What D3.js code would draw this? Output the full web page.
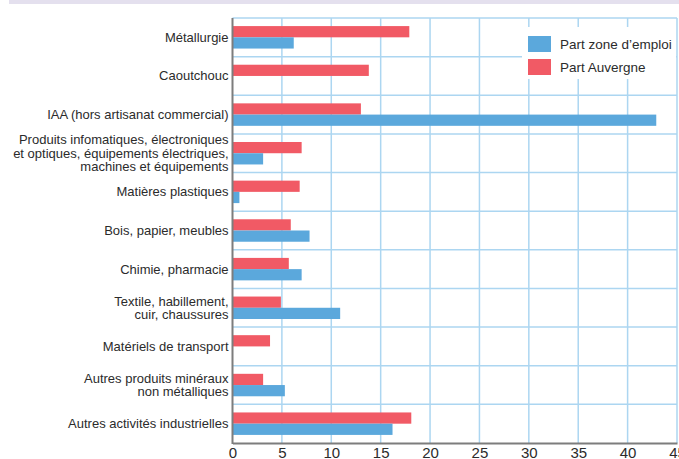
<html>
<head>
  <meta charset="utf-8">
  <script src="https://d3js.org/d3.v7.min.js"></script>
  <style>
    body { margin: 0; background: #fff; }
    text { font-family: "Liberation Sans", Arial, sans-serif; fill: #2b2b2b; }
  </style>
</head>
<body>
<script>

// categories, each one split into its display lines
var categories = [
  ["Métallurgie"],
  ["Caoutchouc"],
  ["IAA (hors artisanat commercial)"],
  ["Produits infomatiques, électroniques", "et optiques, équipements électriques,", "machines et équipements"],
  ["Matières plastiques"],
  ["Bois, papier, meubles"],
  ["Chimie, pharmacie"],
  ["Textile, habillement,", "cuir, chaussures"],
  ["Matériels de transport"],
  ["Autres produits minéraux", "non métalliques"],
  ["Autres activités industrielles"]
];

var partZone     = [6.2, 0, 42.9, 3.1, 0.7, 7.8, 7.0, 10.9, 0, 5.3, 16.2];
var partAuvergne = [17.9, 13.8, 13.0, 7.0, 6.8, 5.9, 5.7, 4.9, 3.8, 3.1, 18.1];

var xTicks = [0, 5, 10, 15, 20, 25, 30, 35, 40, 45];

var seriesNames = ["Part zone d\u2019emploi", "Part Auvergne"];
var colors = {zone: "#5ba8dc", auv: "#f15a65"};

var width = 679,
    height = 459;

// plot area (top is reserved by window, so use plotTop)
var plotLeft = 232.5, plotRight = 677, plotTop = 18, plotBottom = 443;

var svg = d3.select("body")
  .append("svg")
  .attr("width", width)
  .attr("height", height);

// cut-off title band at the very top
svg.append("rect")
  .attr("x", 9).attr("y", 0)
  .attr("width", width - 9).attr("height", 4)
  .attr("fill", "#e4e0ee");

var x = d3.scaleLinear().domain([0, 45]).range([plotLeft, plotRight]);

var y = d3.scaleBand()
  .domain(d3.range(categories.length))
  .range([plotTop, plotBottom]);

var sub = d3.scaleBand()
  .domain(["auv", "zone"])
  .range([0, y.bandwidth()])
  .paddingOuter(0.72);

// grid
svg.selectAll(".vgrid")
  .data(xTicks.slice(1))
  .enter().append("line")
  .attr("x1", function(d) { return x(d); })
  .attr("x2", function(d) { return x(d); })
  .attr("y1", plotTop).attr("y2", plotBottom)
  .attr("stroke", "#acd6f1")
  .attr("stroke-width", 1.5);

svg.selectAll(".hgrid")
  .data(d3.range(categories.length))
  .enter().append("line")
  .attr("x1", plotLeft).attr("x2", plotRight)
  .attr("y1", function(d) { return y(d); })
  .attr("y2", function(d) { return y(d); })
  .attr("stroke", "#acd6f1")
  .attr("stroke-width", 1.5);

// bars
var rows = svg.selectAll(".row")
  .data(categories)
  .enter().append("g")
  .attr("transform", function(d, i) { return "translate(0," + y(i) + ")"; });

rows.append("rect")
  .attr("x", x(0))
  .attr("y", sub("auv"))
  .attr("height", sub.bandwidth())
  .attr("width", function(d, i) { return x(partAuvergne[i]) - x(0); })
  .attr("fill", colors.auv);

rows.append("rect")
  .attr("x", x(0))
  .attr("y", sub("zone"))
  .attr("height", sub.bandwidth())
  .attr("width", function(d, i) { return x(partZone[i]) - x(0); })
  .attr("fill", colors.zone);

// category labels
var lineH = 13.5;
rows.append("text")
  .attr("text-anchor", "end")
  .attr("font-size", "13px")
  .each(function(d) {
    var t = d3.select(this);
    var y0 = y.bandwidth() / 2 - (d.length - 1) * lineH / 2;
    d.forEach(function(s, k) {
      t.append("tspan")
        .attr("x", plotLeft - 4)
        .attr("y", y0 + k * lineH)
        .attr("dy", "0.35em")
        .text(s);
    });
  });

// axes
var xAxis = svg.append("g")
  .attr("transform", "translate(0," + plotBottom + ")")
  .call(d3.axisBottom(x).tickValues(xTicks).tickSize(0).tickPadding(4));
xAxis.select(".domain").attr("stroke", "#7d7d7d").attr("stroke-width", 2);
xAxis.selectAll("text")
  .attr("font-size", "15px")
  .attr("font-family", "Liberation Sans, Arial, sans-serif")
  .attr("fill", "#2b2b2b");

svg.append("line")
  .attr("x1", plotLeft).attr("x2", plotLeft)
  .attr("y1", plotTop).attr("y2", plotBottom + 1)
  .attr("stroke", "#7d7d7d")
  .attr("stroke-width", 2);

// legend
var legend = svg.append("g");
legend.append("rect")
  .attr("x", 522).attr("y", 27)
  .attr("width", 154).attr("height", 52)
  .attr("fill", "#fff");

var legendItems = [
  {name: seriesNames[0], color: colors.zone},
  {name: seriesNames[1], color: colors.auv}
];

legend.selectAll(".item")
  .data(legendItems)
  .enter().append("rect")
  .attr("x", 528)
  .attr("y", function(d, i) { return 36 + i * 23; })
  .attr("width", 23).attr("height", 16)
  .attr("fill", function(d) { return d.color; });

legend.selectAll(".ltext")
  .data(legendItems)
  .enter().append("text")
  .attr("x", 560)
  .attr("y", function(d, i) { return 44 + i * 23; })
  .attr("dy", "0.35em")
  .attr("font-size", "13.5px")
  .text(function(d) { return d.name; });

</script>
</body>
</html>
